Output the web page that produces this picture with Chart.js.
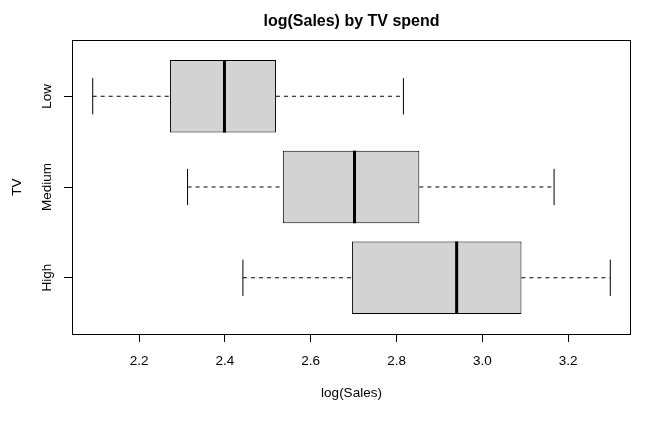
<!DOCTYPE html>
<html>
<head>
<meta charset="utf-8">
<script src="https://cdn.jsdelivr.net/npm/chart.js@4/dist/chart.umd.min.js"></script>
<style>
  body { margin: 0; background: #fff; }
  #wrap { width: 654px; height: 433px; }
</style>
</head>
<body>
<div id="wrap"><canvas id="myChart"></canvas></div>
<script>
// groups from bottom (1) to top (3)
const categories = ['High', 'Medium', 'Low'];
const positions = [1, 2, 3];
const whiskerLow = [2.442, 2.313, 2.092];
const q1 = [2.696, 2.535, 2.272];
const median = [2.940, 2.702, 2.399];
const q3 = [3.091, 2.853, 2.519];
const whiskerHigh = [3.298, 3.167, 2.816];
const xTicks = [2.2, 2.4, 2.6, 2.8, 3.0, 3.2];

const FONT = "'Liberation Sans', Arial, sans-serif";
Chart.defaults.font.family = FONT;
Chart.defaults.color = '#000';

// R-style 4% axis extension
const lo = Math.min(...whiskerLow), hi = Math.max(...whiskerHigh);
const pad = (hi - lo) * 0.04;

const seg = (pts, extra) => Object.assign({
    type: 'scatter',
    data: pts,
    showLine: true,
    borderColor: '#000',
    borderWidth: 1,
    pointRadius: 0,
    fill: false
}, extra);

const medians = positions.map((p, i) => seg(
    [{x: median[i], y: p - 0.4}, {x: median[i], y: p + 0.4}], {borderWidth: 3}));
const whiskers = positions.flatMap((p, i) => [
    seg([{x: whiskerLow[i], y: p}, {x: q1[i], y: p}], {borderDash: [4, 4]}),
    seg([{x: q3[i], y: p}, {x: whiskerHigh[i], y: p}], {borderDash: [4, 4]}),
    seg([{x: whiskerLow[i], y: p - 0.2}, {x: whiskerLow[i], y: p + 0.2}]),
    seg([{x: whiskerHigh[i], y: p - 0.2}, {x: whiskerHigh[i], y: p + 0.2}])
]);

const boxes = {
    type: 'bar',
    data: positions.map((p, i) => ({y: p, x: [q1[i], q3[i]]})),
    backgroundColor: '#d3d3d3',
    borderColor: '#000',
    borderWidth: 1,
    borderSkipped: false,
    barPercentage: 0.8,
    categoryPercentage: 1
};

// plot frame + rotated category labels
const frame = {
    id: 'frame',
    afterDraw(chart) {
        const {ctx, chartArea: a, scales} = chart;
        ctx.save();
        ctx.strokeStyle = '#000';
        ctx.lineWidth = 1;
        ctx.strokeRect(Math.round(a.left) + 0.5, Math.round(a.top) + 0.5,
            Math.round(a.right - a.left) - 1, Math.round(a.bottom - a.top));
        ctx.font = '13.5px ' + FONT;
        ctx.fillStyle = '#000';
        ctx.textAlign = 'center';
        ctx.textBaseline = 'middle';
        categories.forEach((c, i) => {
            ctx.save();
            ctx.translate(47, scales.y.getPixelForValue(positions[i]));
            ctx.rotate(-Math.PI / 2);
            ctx.fillText(c, 0, 0);
            ctx.restore();
        });
        ctx.restore();
    }
};

const ctx = document.getElementById('myChart').getContext('2d');
new Chart(ctx, {
    type: 'bar',
    data: {
        datasets: [...medians, boxes, ...whiskers]
    },
    options: {
        indexAxis: 'y',
        responsive: true,
        maintainAspectRatio: false,
        animation: false,
        events: [],
        layout: {padding: {left: 0, right: 23, top: 0, bottom: 0}},
        plugins: {
            legend: {display: false},
            tooltip: {enabled: false},
            title: {
                display: true,
                fullSize: false,
                text: 'log(Sales) by TV spend',
                font: {size: 16, weight: 'bold'},
                color: '#000',
                padding: {top: 12.4, bottom: 8.4}
            }
        },
        scales: {
            x: {
                type: 'linear',
                min: lo - pad,
                max: hi + pad,
                offset: false,
                afterBuildTicks: s => { s.ticks = xTicks.map(v => ({value: v})); },
                afterFit: s => { s.height = 99; },
                ticks: {
                    font: {size: 13.5},
                    padding: 11,
                    maxRotation: 0,
                    callback: v => Number(v).toFixed(1)
                },
                grid: {offset: false, drawOnChartArea: false, drawTicks: true, tickLength: 8, color: '#000'},
                border: {display: false},
                title: {display: true, text: 'log(Sales)', font: {size: 13.5}, padding: {top: 0, bottom: 31.4}}
            },
            y: {
                type: 'linear',
                min: 0.38,
                max: 3.62,
                offset: false,
                afterBuildTicks: s => { s.ticks = positions.map(v => ({value: v})); },
                afterFit: s => { s.width = 72; },
                ticks: {display: false},
                grid: {offset: false, drawOnChartArea: false, drawTicks: true, tickLength: 8, color: '#000'},
                border: {display: false},
                title: {display: true, text: 'TV', font: {size: 13.5}, padding: {top: 9, bottom: 0}}
            }
        }
    },
    plugins: [frame]
});
</script>
</body>
</html>
